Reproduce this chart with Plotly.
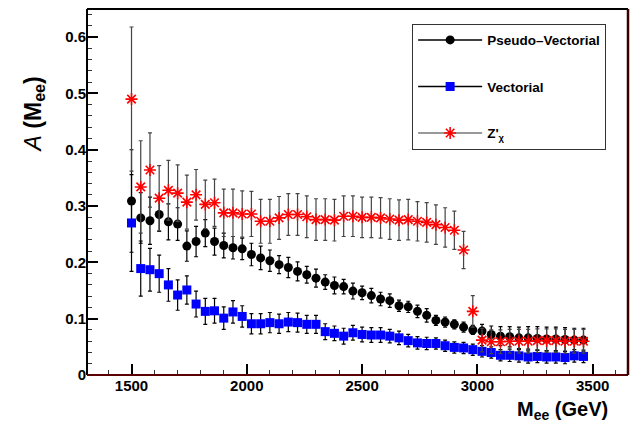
import plotly.graph_objects as go

mass = [1500, 1540, 1580, 1620, 1660, 1700, 1740, 1780, 1820, 1860,
        1900, 1940, 1980, 2020, 2060, 2100, 2140, 2180, 2220, 2260,
        2300, 2340, 2380, 2420, 2460, 2500, 2540, 2580, 2620, 2660,
        2700, 2740, 2780, 2820, 2860, 2900, 2940, 2980, 3020, 3060,
        3100, 3140, 3180, 3220, 3260, 3300, 3340, 3380, 3420, 3460]

pseudo_vec = [0.309, 0.279, 0.274, 0.285, 0.272, 0.268, 0.229, 0.237, 0.252, 0.237,
              0.230, 0.226, 0.224, 0.214, 0.208, 0.203, 0.196, 0.191, 0.184, 0.178,
              0.172, 0.165, 0.159, 0.157, 0.149, 0.146, 0.141, 0.135, 0.132, 0.123,
              0.121, 0.113, 0.106, 0.097, 0.094, 0.090, 0.085, 0.080, 0.078, 0.072,
              0.069, 0.068, 0.066, 0.066, 0.065, 0.064, 0.064, 0.063, 0.062, 0.062]
pseudo_vec_err = [0.091, 0.045, 0.042, 0.030, 0.032, 0.029, 0.027, 0.027, 0.024, 0.024,
                  0.022, 0.020, 0.019, 0.020, 0.021, 0.019, 0.016, 0.018, 0.017, 0.015,
                  0.016, 0.013, 0.015, 0.013, 0.014, 0.012, 0.013, 0.012, 0.012, 0.010,
                  0.010, 0.011, 0.012, 0.009, 0.009, 0.008, 0.009, 0.008, 0.012, 0.015,
                  0.017, 0.018, 0.019, 0.020, 0.021, 0.021, 0.021, 0.021, 0.021, 0.021]

vectorial = [0.270, 0.189, 0.187, 0.180, 0.160, 0.142, 0.151, 0.126, 0.113, 0.114,
             0.101, 0.112, 0.104, 0.091, 0.091, 0.093, 0.091, 0.094, 0.093, 0.090,
             0.090, 0.077, 0.074, 0.069, 0.075, 0.072, 0.071, 0.071, 0.069, 0.066,
             0.061, 0.057, 0.056, 0.056, 0.052, 0.049, 0.048, 0.045, 0.042, 0.040,
             0.035, 0.035, 0.034, 0.032, 0.033, 0.032, 0.032, 0.031, 0.034, 0.033]
vectorial_err = [0.086, 0.049, 0.038, 0.033, 0.029, 0.027, 0.025, 0.023, 0.023, 0.022,
                 0.020, 0.020, 0.019, 0.018, 0.018, 0.018, 0.017, 0.017, 0.017, 0.016,
                 0.016, 0.014, 0.013, 0.014, 0.013, 0.013, 0.013, 0.013, 0.012, 0.012,
                 0.011, 0.011, 0.011, 0.010, 0.010, 0.010, 0.010, 0.010, 0.010, 0.010,
                 0.010, 0.011, 0.011, 0.011, 0.011, 0.011, 0.011, 0.011, 0.011, 0.011]

zchi = [0.490, 0.334, 0.364, 0.314, 0.328, 0.323, 0.307, 0.320, 0.303, 0.306,
        0.288, 0.288, 0.286, 0.286, 0.273, 0.273, 0.279, 0.285, 0.285, 0.281,
        0.276, 0.276, 0.275, 0.282, 0.282, 0.280, 0.280, 0.279, 0.277, 0.275,
        0.276, 0.273, 0.271, 0.267, 0.262, 0.257, 0.222, 0.113, 0.062, 0.059,
        0.059, 0.060, 0.060, 0.060, 0.061, 0.061, 0.061, 0.060, 0.060, 0.060]
zchi_err = [0.128, 0.082, 0.066, 0.058, 0.053, 0.050, 0.048, 0.045, 0.043, 0.042,
            0.042, 0.042, 0.041, 0.040, 0.039, 0.039, 0.038, 0.037, 0.037, 0.037,
            0.037, 0.037, 0.037, 0.036, 0.036, 0.036, 0.036, 0.036, 0.036, 0.036,
            0.036, 0.035, 0.035, 0.035, 0.035, 0.034, 0.033, 0.028, 0.021, 0.021,
            0.021, 0.021, 0.021, 0.021, 0.021, 0.021, 0.021, 0.021, 0.021, 0.021]

labels = ["Pseudo\u2013Vectorial", "Vectorial", "Z'<sub>\u03c7</sub>"]
y_ticks = [0, 0.1, 0.2, 0.3, 0.4, 0.5, 0.6]
x_ticks = [1500, 2000, 2500, 3000, 3500]

FONT = "Liberation Sans, Arial, Helvetica, sans-serif"

fig = go.Figure()

series = [
    (pseudo_vec, pseudo_vec_err, dict(symbol="circle", size=9, color="black"), "black", "black"),
    (vectorial, vectorial_err, dict(symbol="square", size=9, color="#0000ff"), "black", "black"),
    (zchi, zchi_err, dict(symbol="asterisk-open", size=10, color="#ff0000",
                          line=dict(color="#ff0000", width=1.6)), "#444444", "#777777"),
]

for (vals, errs, mk, ecol, lcol), name in zip(series, labels):
    fig.add_trace(go.Scatter(
        x=mass, y=vals, mode="markers", marker=mk, showlegend=False,
        error_y=dict(type="data", array=errs, visible=True, color=ecol,
                     thickness=1.2, width=2),
        cliponaxis=False, hoverinfo="skip",
    ))

for i, ((vals, errs, mk, ecol, lcol), name) in enumerate(zip(series, labels)):
    fig.add_trace(go.Scatter(
        x=[None], y=[None], mode="lines+markers", name=name,
        marker=mk, line=dict(color=lcol, width=1.5),
        legendgroup="g%d" % i, showlegend=True,
    ))

fig.update_layout(
    width=639, height=425,
    margin=dict(l=87, r=11, t=9, b=50),
    paper_bgcolor="white", plot_bgcolor="white",
    font=dict(family=FONT, color="black"),
    showlegend=True,
    legend=dict(
        x=0.601, y=0.96, xanchor="left", yanchor="top",
        bordercolor="#333333", borderwidth=1, bgcolor="white",
        font=dict(family=FONT, size=13.5, weight="bold", color="black"),
        tracegroupgap=26, itemwidth=64,
    ),
    xaxis=dict(
        range=[1307, 3653], tickvals=x_ticks, ticktext=[str(v) for v in x_ticks],
        ticks="inside", ticklen=11, tickwidth=1.5, tickcolor="black",
        minor=dict(ticks="inside", dtick=100, tick0=1500, ticklen=5, tickwidth=1.2, tickcolor="#333333"),
        showgrid=False, zeroline=False, showline=False,
        tickfont=dict(family=FONT, size=15, weight="bold", color="black"),
    ),
    yaxis=dict(
        range=[0, 0.65], tickvals=y_ticks, ticktext=["0", "0.1", "0.2", "0.3", "0.4", "0.5", "0.6"],
        ticks="inside", ticklen=11, tickwidth=1.5, tickcolor="black",
        minor=dict(ticks="inside", dtick=0.02, tick0=0, ticklen=5, tickwidth=1.2, tickcolor="#333333"),
        showgrid=False, zeroline=False, showline=False,
        tickfont=dict(family=FONT, size=15, weight="bold", color="black"),
    ),
    shapes=[
        dict(type="line", xref="paper", yref="paper", x0=0, x1=0, y0=0, y1=1,
             line=dict(color="black", width=2)),
        dict(type="line", xref="paper", yref="paper", x0=0, x1=1, y0=1, y1=1,
             line=dict(color="black", width=2)),
        dict(type="line", xref="paper", yref="paper", x0=0, x1=1, y0=0, y1=0,
             line=dict(color="#5a0000", width=2)),
        dict(type="line", xref="paper", yref="paper", x0=1, x1=1, y0=0, y1=1,
             line=dict(color="#3a0000", width=2.5)),
    ],
    annotations=[
        dict(text="<b>M<sub>ee</sub> (GeV)</b>", xref="paper", yref="paper",
             x=0.967, y=-0.096, xanchor="right", yanchor="middle", showarrow=False,
             font=dict(family=FONT, size=20, color="black")),
        dict(text="<i>A</i> <b>(M<sub>ee</sub>)</b>", xref="paper", yref="paper",
             x=(34 - 87) / 541, y=0.712, xanchor="center", yanchor="middle",
             textangle=-90, showarrow=False,
             font=dict(family=FONT, size=23, color="black")),
    ],
)

fig.write_html("out.html", config={"displayModeBar": False},
               post_script="document.body.style.margin='0';document.body.style.padding='0';")
